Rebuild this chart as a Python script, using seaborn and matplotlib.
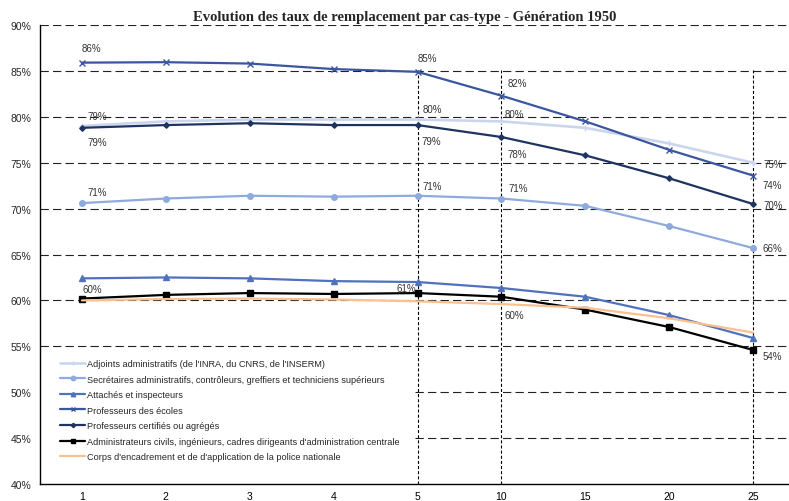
import matplotlib
matplotlib.use("Agg")
import matplotlib.pyplot as plt
import seaborn as sns
import pandas as pd
import numpy as np
from matplotlib.ticker import FuncFormatter
from matplotlib.patches import Rectangle

# ---- data ----
anciennete = ["1", "2", "3", "4", "5", "10", "15", "20", "25"]

series_names = [
    "Adjoints administratifs (de l'INRA, du CNRS, de l'INSERM)",
    "Secrétaires administratifs, contrôleurs, greffiers et techniciens supérieurs",
    "Attachés et inspecteurs",
    "Professeurs des écoles",
    "Professeurs certifiés ou agrégés",
    "Administrateurs civils, ingénieurs, cadres dirigeants d'administration centrale",
    "Corps d'encadrement et de d'application de la police nationale",
]

adjoints = [79.0, 79.5, 79.7, 79.7, 79.7, 79.5, 78.8, 77.1, 75.0]
secretaires = [70.6, 71.1, 71.4, 71.3, 71.4, 71.1, 70.3, 68.1, 65.7]
attaches = [62.4, 62.5, 62.4, 62.1, 62.0, 61.35, 60.4, 58.4, 55.9]
ecoles = [85.9, 85.95, 85.8, 85.2, 84.9, 82.3, 79.5, 76.4, 73.6]
certifies = [78.8, 79.1, 79.3, 79.1, 79.1, 77.8, 75.8, 73.3, 70.5]
administrateurs = [60.2, 60.6, 60.8, 60.7, 60.8, 60.4, 59.0, 57.1, 54.6]
police = [60.0, 60.15, 60.2, 60.1, 59.9, 59.6, 59.2, 58.05, 56.5]

values = [adjoints, secretaires, attaches, ecoles, certifies, administrateurs, police]

# data labels: (series index, category, text, dx px, dy px)
labels = [
    (3, "1", "86%", 9, 15),
    (3, "5", "85%", 10, 14),
    (0, "1", "79%", 15, 10),
    (4, "1", "79%", 15, -14),
    (0, "5", "80%", 15, 11),
    (4, "5", "79%", 14, -16),
    (1, "1", "71%", 15, 11),
    (1, "5", "71%", 15, 10),
    (3, "10", "82%", 16, 13),
    (0, "10", "80%", 13, 7),
    (4, "10", "78%", 16, -17),
    (1, "10", "71%", 17, 11),
    (0, "25", "75%", 20, -1),
    (3, "25", "74%", 19, -9),
    (4, "25", "70%", 20, -1),
    (1, "25", "66%", 19, 0),
    (5, "1", "60%", 10, 10),
    (5, "5", "61%", -11, 5),
    (5, "10", "60%", 13, -18),
    (5, "25", "54%", 19, -6),
]

vlines_at = ["5", "10", "25"]

colors = ["#CBD6EE", "#8FAADC", "#4F71BE", "#3A56A0", "#1F3360", "#000000", "#FAC08F"]
markers = ["+", "o", "^", "x", "D", "s", None]
msizes = [4, 4, 4, 4, 2.8, 4.2, 0]

# ---- figure ----
sns.set_theme(style="white")
plt.rcParams["font.family"] = ["Liberation Sans", "DejaVu Sans"]
plt.rcParams["lines.scale_dashes"] = False

W, H = 789, 502
fig = plt.figure(figsize=(W / 100, H / 100), dpi=100)
L, R, T, B = 40, 795, 26, 485
ax = fig.add_axes([L / W, 1 - B / H, (R - L) / W, (B - T) / H])

rows = []
for name, vals in zip(series_names, values):
    for a, v in zip(anciennete, vals):
        rows.append({"anciennete": a, "taux": v, "serie": name})
df = pd.DataFrame(rows)

for i, name in enumerate(series_names):
    sub = df[df["serie"] == name]
    kw = {}
    if markers[i]:
        kw = dict(marker=markers[i], markersize=msizes[i], markeredgecolor=colors[i],
                  markerfacecolor=colors[i], markeredgewidth=1.0)
    sns.lineplot(data=sub, x="anciennete", y="taux", ax=ax, color=colors[i],
                 linewidth=1.6 if i != 0 else 1.9, label=name, zorder=3 + i, **kw)

ax.set_xlim(-0.5, 8.5)
ax.set_ylim(40, 90)
ax.set_yticks(np.arange(40, 91, 5))
ax.yaxis.set_major_formatter(FuncFormatter(lambda v, p: f"{v:.0f}%"))
ax.set_xticks(np.arange(9))
ax.set_xticklabels(anciennete)
ax.set_xticks(np.arange(-0.5, 8.6, 1), minor=True)
ax.tick_params(axis="x", which="major", length=0, pad=5, labelsize=7.5, colors="black")
ax.tick_params(axis="x", which="minor", length=3, width=0.8, color="#404040", direction="out")
ax.tick_params(axis="y", which="major", length=4, width=0.8, color="#404040", direction="out",
               labelsize=7.5, pad=2)
ax.set_xlabel("")
ax.set_ylabel("")

for s in ["top", "right"]:
    ax.spines[s].set_visible(False)
for s in ["left", "bottom"]:
    ax.spines[s].set_color("black")
    ax.spines[s].set_linewidth(1.0)

# horizontal dashed grid
for y in np.arange(45, 91, 5):
    ax.axhline(y, color="#222222", linewidth=0.8, linestyle=(0, (6, 3)), zorder=1)

# white legend backdrop covering the grid
ax.add_patch(Rectangle((41 / W, 1 - 472 / H), (415 - 41) / W, (472 - 352) / H,
                       transform=fig.transFigure, facecolor="white", edgecolor="none", zorder=1.5))

# vertical dotted lines
for c in vlines_at:
    xi = anciennete.index(c)
    ax.vlines(xi, 40, 85.1, colors="black", linewidth=0.8, linestyles=[(0, (2.2, 1.5))], zorder=2)

# data labels
for si, cat, txt, dx, dy in labels:
    xi = anciennete.index(cat)
    yv = values[si][xi]
    ax.annotate(txt, xy=(xi, yv), xytext=(dx * 0.72, dy * 0.72), textcoords="offset points",
                ha="center", va="center", fontsize=7, color="#333333", zorder=20)

leg = ax.legend(loc="upper left", bbox_to_anchor=(60 / W, 1 - 360 / H), bbox_transform=fig.transFigure,
                frameon=False, fontsize=6.55, handlelength=2.75, handletextpad=0.2,
                labelspacing=0.72, borderpad=0, borderaxespad=0, markerscale=0.8)

fig.text(405 / W, 1 - 18 / H, "Evolution des taux de remplacement par cas-type - Génération 1950",
         ha="center", va="center", fontsize=10.5, fontweight="bold", family=["Liberation Serif"])

fig.savefig("out.png", dpi=100)
